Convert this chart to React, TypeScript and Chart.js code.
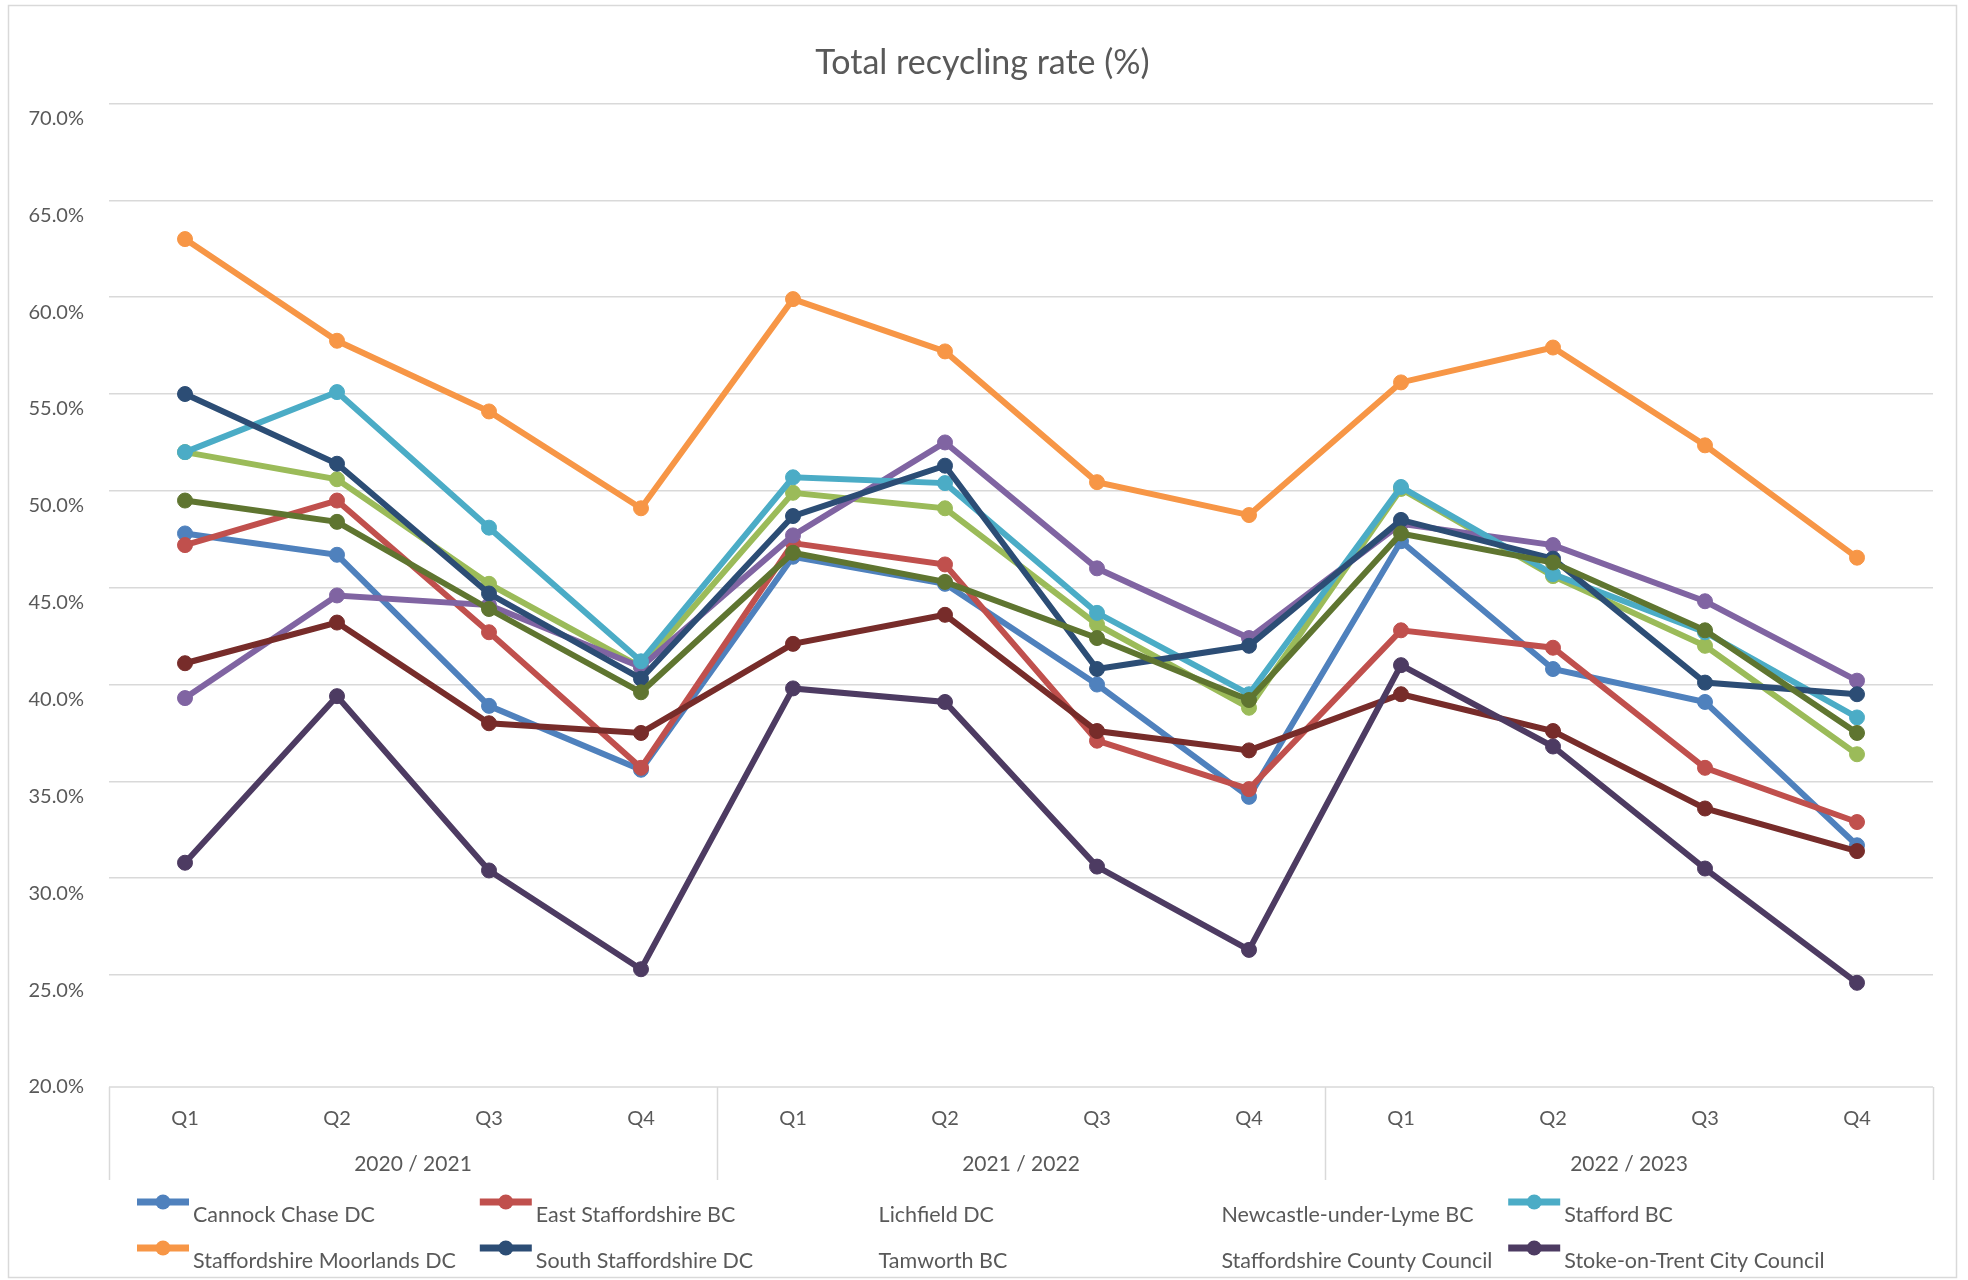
import React, { useEffect, useRef } from "react";
import { Chart, registerables } from "chart.js";

Chart.register(...registerables);

// ---------- data ----------
const quarters = ["Q1", "Q2", "Q3", "Q4", "Q1", "Q2", "Q3", "Q4", "Q1", "Q2", "Q3", "Q4"];
const years = ["2020 / 2021", "2021 / 2022", "2022 / 2023"];
const chartTitle = "Total recycling rate (%)";
const yTickValues = [20, 25, 30, 35, 40, 45, 50, 55, 60, 65, 70];
const yAxisMin = 19.22;
const yAxisMax = 70;

const seriesNames = [
  "Cannock Chase DC",
  "East Staffordshire BC",
  "Lichfield DC",
  "Newcastle-under-Lyme BC",
  "Stafford BC",
  "Staffordshire Moorlands DC",
  "South Staffordshire DC",
  "Tamworth BC",
  "Staffordshire County Council",
  "Stoke-on-Trent City Council",
];

const cannockChase = [47.8, 46.7, 38.9, 35.6, 46.6, 45.2, 40.0, 34.2, 47.4, 40.8, 39.1, 31.7];
const eastStaffordshire = [47.2, 49.5, 42.7, 35.7, 47.3, 46.2, 37.1, 34.6, 42.8, 41.9, 35.7, 32.9];
const lichfield = [52.0, 50.6, 45.2, 40.9, 49.9, 49.1, 43.1, 38.8, 50.1, 45.6, 42.0, 36.4];
const newcastleUnderLyme = [39.3, 44.6, 44.1, 40.9, 47.7, 52.5, 46.0, 42.4, 48.3, 47.2, 44.3, 40.2];
const stafford = [52.0, 55.1, 48.1, 41.2, 50.7, 50.4, 43.7, 39.5, 50.2, 45.7, 42.7, 38.3];
const staffordshireMoorlands = [63.0, 57.75, 54.1, 49.1, 59.9, 57.2, 50.45, 48.75, 55.6, 57.4, 52.35, 46.55];
const southStaffordshire = [55.0, 51.4, 44.7, 40.3, 48.7, 51.3, 40.8, 42.0, 48.5, 46.5, 40.1, 39.5];
const tamworth = [41.1, 43.2, 38.0, 37.5, 42.1, 43.6, 37.6, 36.6, 39.5, 37.6, 33.6, 31.4];
const staffordshireCounty = [49.5, 48.4, 43.9, 39.6, 46.8, 45.3, 42.4, 39.2, 47.8, 46.3, 42.8, 37.5];
const stokeOnTrent = [30.8, 39.4, 30.4, 25.3, 39.8, 39.1, 30.6, 26.3, 41.0, 36.8, 30.5, 24.6];

const seriesValues = [
  cannockChase,
  eastStaffordshire,
  lichfield,
  newcastleUnderLyme,
  stafford,
  staffordshireMoorlands,
  southStaffordshire,
  tamworth,
  staffordshireCounty,
  stokeOnTrent,
];

// ---------- styles ----------
const seriesColors = [
  "#4F81BD",
  "#C0504D",
  "#9BBB59",
  "#8064A2",
  "#4BACC6",
  "#F79646",
  "#2C4D75",
  "#772C2A",
  "#5F7530",
  "#4D3B62",
];
// legend entries whose marker is not shown in the reference
const legendNoMarker = new Set([
  "Lichfield DC",
  "Newcastle-under-Lyme BC",
  "Tamworth BC",
  "Staffordshire County Council",
]);

const FONT = "Lato, 'Open Sans', sans-serif";
const TEXT = "#595959";
const GRID = "#d9d9d9";
const W = 1968;
const H = 1280;

const decorPlugin = {
  id: "decor",
  afterDraw(chart: any) {
    const { ctx, chartArea, scales } = chart;
    const xs = scales.x;
    ctx.save();

    // outer border
    ctx.strokeStyle = GRID;
    ctx.lineWidth = 1.5;
    ctx.strokeRect(8.5, 5.5, 1948, 1272);

    // title
    ctx.fillStyle = TEXT;
    ctx.font = `34px ${FONT}`;
    ctx.textAlign = "center";
    ctx.textBaseline = "middle";
    ctx.fillText(chartTitle, 982.5, 63);

    // category axis base line
    ctx.strokeStyle = GRID;
    ctx.lineWidth = 1.5;
    ctx.beginPath();
    ctx.moveTo(chartArea.left, chartArea.bottom);
    ctx.lineTo(chartArea.right, chartArea.bottom);
    ctx.stroke();

    // group separators and year labels
    const per = quarters.length / years.length;
    const bounds: number[] = [];
    for (let g = 0; g <= years.length; g++) {
      let px: number;
      if (g === 0) px = chartArea.left;
      else if (g === years.length) px = chartArea.right;
      else px = (xs.getPixelForValue(g * per - 1) + xs.getPixelForValue(g * per)) / 2;
      bounds.push(px);
    }
    bounds.forEach((px) => {
      ctx.beginPath();
      ctx.moveTo(Math.round(px) + 0.5, chartArea.bottom);
      ctx.lineTo(Math.round(px) + 0.5, 1180);
      ctx.stroke();
    });
    ctx.font = `21px ${FONT}`;
    ctx.fillStyle = TEXT;
    years.forEach((y, g) => {
      ctx.fillText(y, (bounds[g] + bounds[g + 1]) / 2, 1164);
    });

    // legend
    ctx.textAlign = "left";
    ctx.font = `21.5px ${FONT}`;
    chart.data.datasets.forEach((ds: any, i: number) => {
      const col = i % 5;
      const row = Math.floor(i / 5);
      const ix = 137 + 342.8 * col;
      const iy = 1202 + 46 * row;
      if (!legendNoMarker.has(ds.label)) {
        ctx.strokeStyle = ds.borderColor;
        ctx.lineWidth = 7;
        ctx.beginPath();
        ctx.moveTo(ix, iy);
        ctx.lineTo(ix + 52, iy);
        ctx.stroke();
        ctx.fillStyle = ds.borderColor;
        ctx.beginPath();
        ctx.arc(ix + 26, iy, 7.5, 0, Math.PI * 2);
        ctx.fill();
      }
      ctx.fillStyle = TEXT;
      ctx.fillText(ds.label, ix + 56, iy + 13);
    });

    ctx.restore();
  },
};

export default function App() {
  const canvasRef = useRef<HTMLCanvasElement | null>(null);

  useEffect(() => {
    if (!canvasRef.current) return;
    const n = seriesNames.length;
    const chart = new Chart(canvasRef.current, {
      type: "line",
      data: {
        labels: quarters,
        datasets: seriesNames.map((name, i) => ({
          label: name,
          data: seriesValues[i],
          borderColor: seriesColors[i],
          backgroundColor: seriesColors[i],
          pointBackgroundColor: seriesColors[i],
          pointBorderColor: seriesColors[i],
          pointBorderWidth: 1,
          pointRadius: 7.5,
          borderWidth: 6,
          tension: 0,
          fill: false,
          order: n - i,
        })),
      },
      options: {
        responsive: false,
        animation: false,
        layout: { padding: { top: 103.5, right: 35, bottom: 0, left: 0 } },
        plugins: {
          legend: { display: false },
          title: { display: false },
          tooltip: { enabled: false },
        },
        scales: {
          x: {
            type: "category",
            offset: true,
            grid: { display: false, drawTicks: false },
            border: { display: false },
            ticks: {
              color: TEXT,
              font: { family: FONT, size: 20 },
              padding: 20,
              maxRotation: 0,
              autoSkip: false,
            },
            afterFit: (scale: any) => {
              scale.height = 193;
            },
          },
          y: {
            min: yAxisMin,
            max: yAxisMax,
            afterBuildTicks: (scale: any) => {
              scale.ticks = yTickValues.map((v) => ({ value: v }));
            },
            grid: {
              color: (c: any) => (c.tick && c.tick.value === yTickValues[0] ? "rgba(0,0,0,0)" : GRID),
              lineWidth: 1.5,
              drawTicks: false,
            },
            border: { display: false },
            ticks: {
              color: TEXT,
              font: { family: FONT, size: 20 },
              padding: 25,
              labelOffset: 15,
              callback: (v: any) => `${Number(v).toFixed(1)}%`,
            },
            afterFit: (scale: any) => {
              scale.width = 109;
            },
          },
        },
      },
      plugins: [decorPlugin],
    });
    return () => chart.destroy();
  }, []);

  return (
    <div style={{ position: "absolute", left: 0, top: 0, width: W, height: H, background: "#fff" }}>
      <canvas ref={canvasRef} width={W} height={H} style={{ display: "block", width: W, height: H }} />
    </div>
  );
}
